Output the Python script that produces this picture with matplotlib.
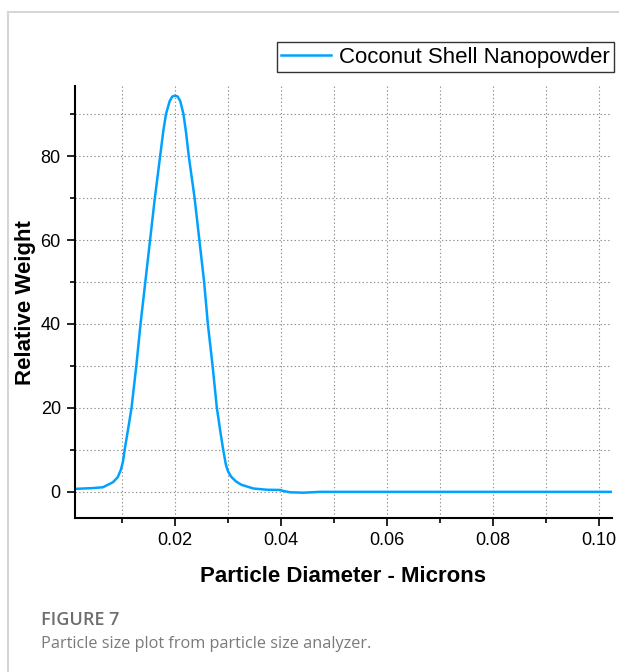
import numpy as np
import matplotlib
matplotlib.use('Agg')
import matplotlib.pyplot as plt
from matplotlib.lines import Line2D
from matplotlib.ticker import MultipleLocator

# Data
diameter = [0.0010, 0.0045, 0.0064, 0.0083, 0.0092, 0.0098, 0.0102, 0.0105, 0.0111, 0.0118,
            0.0127, 0.0135, 0.0144, 0.0153, 0.0162, 0.0172, 0.0178, 0.0183, 0.0190,
            0.0195, 0.0200, 0.0205, 0.0210, 0.0216, 0.0221, 0.0226, 0.0237, 0.0246,
            0.0255, 0.0262, 0.0271, 0.0279, 0.0286, 0.0291, 0.0296, 0.0300, 0.0306,
            0.0315, 0.0325, 0.0348, 0.0374, 0.0398, 0.0405, 0.0417, 0.0442,
            0.0474, 0.0500, 0.0600, 0.0700, 0.0800, 0.0900, 0.1000, 0.1025]
weight = [0.7, 0.9, 1.1, 2.3, 3.5, 5.3, 7.3, 10.0, 14.5, 20.0,
          30.0, 40.0, 50.0, 60.0, 70.0, 80.0, 86.0, 90.0, 93.1,
          94.2, 94.4, 94.2, 93.1, 90.0, 85.5, 80.0, 70.0, 60.0,
          50.0, 40.0, 30.0, 20.0, 14.0, 10.0, 6.5, 4.9, 3.6,
          2.5, 1.7, 0.8, 0.5, 0.45, 0.2, -0.1, -0.2,
          0.0, 0.0, 0.0, 0.0, 0.0, 0.0, 0.0, 0.0]
series_name = 'Coconut Shell Nanopowder'

plt.rcParams['font.family'] = ['Liberation Sans', 'DejaVu Sans']

fig = plt.figure(figsize=(6.19, 6.72), dpi=100)
ax = fig.add_axes([74.7/619, 1 - 518.3/672, (612 - 74.7)/619, (518.3 - 86)/672])

ax.plot(diameter, weight, color='#00A2FF', lw=1.8, label=series_name)

ax.set_xlim(0.00108, 0.10245)
ax.set_ylim(-6.3, 96.7)
ax.xaxis.set_major_locator(MultipleLocator(0.02))
ax.xaxis.set_minor_locator(MultipleLocator(0.01))
ax.yaxis.set_major_locator(MultipleLocator(20))
ax.yaxis.set_minor_locator(MultipleLocator(10))
ax.xaxis.set_major_formatter(plt.FuncFormatter(lambda v, p: f'{v:.2f}'))

ax.grid(True, which='both', color='#8c8c8c', lw=0.8, linestyle=(0, (1.2, 2.2)))
ax.set_axisbelow(True)

for s in ['top', 'right']:
    ax.spines[s].set_visible(False)
for s in ['left', 'bottom']:
    ax.spines[s].set_linewidth(1.5)

ax.tick_params(which='major', length=6, width=1.2, labelsize=13, pad=4)
ax.tick_params(which='minor', length=3.5, width=1.2)

ax.set_xlabel('Particle Diameter - Microns', fontsize=16, fontweight='bold', labelpad=12)
ax.set_ylabel('Relative Weight', fontsize=16, fontweight='bold', labelpad=3)

leg = ax.legend(loc='upper right', bbox_to_anchor=(614/619, 1 - 42.3/672),
                bbox_transform=fig.transFigure, borderaxespad=0, fontsize=16,
                fancybox=False, framealpha=1, edgecolor='#333333',
                handlelength=2.25, handletextpad=0.35, borderpad=0.2)
leg.get_frame().set_linewidth(1.0)

# card border
fig.add_artist(Line2D([8/619, 1], [1 - 12/672, 1 - 12/672], color='#d6d6d6', lw=1.5,
                      transform=fig.transFigure))
fig.add_artist(Line2D([8/619, 8/619], [0, 1 - 12/672], color='#d6d6d6', lw=1.5,
                      transform=fig.transFigure))

# caption
fig.text(41/619, 1 - 625/672, 'FIGURE 7', fontsize=13, fontweight='semibold',
         color='#6e6e6e', family=['Open Sans', 'DejaVu Sans'], va='baseline')
fig.text(41/619, 1 - 648/672, 'Particle size plot from particle size analyzer.',
         fontsize=11.7, color='#7a7a7a', family=['Open Sans', 'DejaVu Sans'], va='baseline')

fig.savefig('out.png', dpi=100, facecolor='white')
